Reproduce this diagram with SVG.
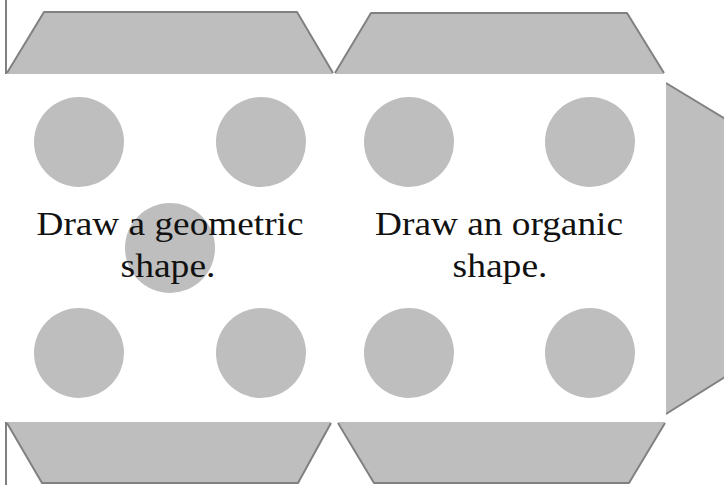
<svg xmlns="http://www.w3.org/2000/svg" width="724" height="485" viewBox="0 0 724 485">
  <style>
    .flap { fill: #bebebe; stroke: none; }
    .edge { fill: none; stroke: #808080; stroke-width: 2; stroke-linejoin: round; stroke-linecap: butt; }
    .dot { fill: #bebebe; }
    .lbl { font-family: "Liberation Serif", "Times New Roman", serif; font-size: 34px; fill: #111111; text-anchor: middle; }
  </style>
  <rect x="0" y="0" width="724" height="485" fill="#ffffff"/>

  <g id="tab-right">
    <polygon class="flap" points="666,83 760,140 760,355 666,414"/>
    <polyline class="edge" points="666,83 760,140"/>
    <polyline class="edge" points="666,414 760,355"/>
  </g>

  <g id="flap-top-left">
    <polygon class="flap" points="7,74 44,12 297,12 333,74"/>
    <polyline class="edge" points="7,73 44,12 297,12 333,73"/>
    <line class="edge" x1="6" y1="0" x2="6" y2="74"/>
  </g>
  <g id="flap-top-right">
    <polygon class="flap" points="335,74 371,13 627,13 664,74"/>
    <polyline class="edge" points="335,73 371,13 627,13 664,73"/>
  </g>
  <g id="flap-bottom-left">
    <polygon class="flap" points="7,422 331,422 298,483 42,483"/>
    <polyline class="edge" points="7,423 42,483 298,483 331,423"/>
    <line class="edge" x1="6" y1="422" x2="6" y2="485"/>
  </g>
  <g id="flap-bottom-right">
    <polygon class="flap" points="338,422 665,422 629,483 374,483"/>
    <polyline class="edge" points="338,423 374,483 629,483 665,423"/>
  </g>

  <rect id="face-sheet" x="7" y="74" width="659" height="348" fill="#ffffff"/>

  <g id="face-geometric">
    <circle class="dot" cx="79" cy="142" r="45"/>
    <circle class="dot" cx="261" cy="142" r="45"/>
    <circle class="dot" cx="170" cy="248" r="45"/>
    <circle class="dot" cx="79" cy="353" r="45"/>
    <circle class="dot" cx="261" cy="353" r="45"/>
    <text class="lbl" x="170" y="235" textLength="267" lengthAdjust="spacingAndGlyphs">Draw a geometric</text>
    <text class="lbl" x="168" y="277" textLength="95" lengthAdjust="spacingAndGlyphs">shape.</text>
  </g>

  <g id="face-organic">
    <circle class="dot" cx="409" cy="142" r="45"/>
    <circle class="dot" cx="590" cy="142" r="45"/>
    <circle class="dot" cx="409" cy="353" r="45"/>
    <circle class="dot" cx="590" cy="353" r="45"/>
    <text class="lbl" x="499" y="235" textLength="248" lengthAdjust="spacingAndGlyphs">Draw an organic</text>
    <text class="lbl" x="500" y="277" textLength="95" lengthAdjust="spacingAndGlyphs">shape.</text>
  </g>

  <g id="connectors"/>
</svg>
